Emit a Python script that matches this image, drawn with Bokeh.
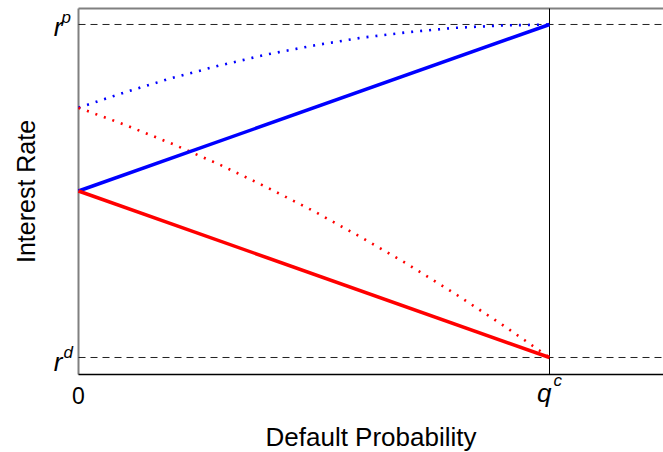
import math
from bokeh.plotting import figure
from bokeh.models import Range1d
from bokeh.core.properties import value
from bokeh.embed import file_html
from bokeh.resources import INLINE

# ---- data ----
q_vals = [0, 1]                 # default probability: 0 and q^c
r_d, r_p = 0.0, 1.0             # rate levels r^d and r^p
blue_solid = [0.5, 1.0]
red_solid = [0.5, 0.0]
q_curve = [0, 0.1, 0.2, 0.3, 0.4, 0.5, 0.6, 0.7, 0.8, 0.9, 1.0]
blue_dotted = [0.75, 0.797, 0.84, 0.877, 0.91, 0.937, 0.96, 0.977, 0.99, 0.997, 1.0]
red_dotted = [0.75, 0.698, 0.641, 0.579, 0.511, 0.439, 0.361, 0.279, 0.191, 0.098, 0.0]

# visible plot box (data units)
x_lo, x_hi = 0.0, 1.242
y_lo, y_hi = -0.051, 1.048

FONT = "Liberation Sans"

p = figure(width=663, height=452, output_backend="svg", toolbar_location=None,
           x_range=Range1d(-0.1656, 1.242), y_range=Range1d(-0.2853, 1.072),
           min_border=0)
p.axis.visible = False
p.xgrid.visible = False
p.ygrid.visible = False
p.outline_line_color = None

# box / axes
p.line([x_lo, x_lo], [y_lo, y_hi], line_color="#808080", line_width=2)
p.line([x_lo, x_hi], [y_hi, y_hi], line_color="#808080", line_width=2)
p.line([x_lo, x_hi], [y_lo, y_lo], line_color="black", line_width=1.5)

# reference lines
for lvl in (r_d, r_p):
    p.line([x_lo, x_hi], [lvl, lvl], line_color="#222222", line_width=1, line_dash="7 5")
p.line([q_vals[1], q_vals[1]], [y_lo, y_hi], line_color="black", line_width=1)

# curves
p.line(q_curve, blue_dotted, line_color="#0000ff", line_width=2.6, line_dash="2 7")
p.line(q_curve, red_dotted, line_color="#ff0000", line_width=2.6, line_dash="2 7")
p.line(q_vals, blue_solid, line_color="#0000ff", line_width=3.5)
p.line(q_vals, red_solid, line_color="#ff0000", line_width=3.5)

def lab(x, y, text, dx, dy, size, align, style="italic", angle=0.0):
    p.text(x=[x], y=[y], text=[text], x_offset=dx, y_offset=dy, angle=angle,
           text_font=value(FONT), text_font_size=size, text_align=align,
           text_baseline="middle", text_font_style=style, text_color="black")

# y tick labels
lab(0, r_p, "r", -16, 3, "26px", "right")
lab(0, r_p, "p", -17, -7, "17px", "left")
lab(0, r_d, "r", -16, 5, "26px", "right")
lab(0, r_d, "d", -15, -5, "17px", "left")
# x tick labels
lab(q_vals[0], r_d, "0", 0, 38, "23px", "center", style="normal")
lab(q_vals[1], r_d, "q", 2, 36, "26px", "right")
lab(q_vals[1], r_d, "c", 4, 23, "17px", "left")

# axis titles
lab(x_lo, (y_lo + y_hi) / 2, "Interest Rate", -53, 0, "25px", "center",
    style="normal", angle=math.pi / 2)
lab((x_lo + x_hi) / 2, r_d, "Default Probability", 0, 80, "26px", "center",
    style="normal")

open("out.html", "w").write(file_html(p, INLINE))
